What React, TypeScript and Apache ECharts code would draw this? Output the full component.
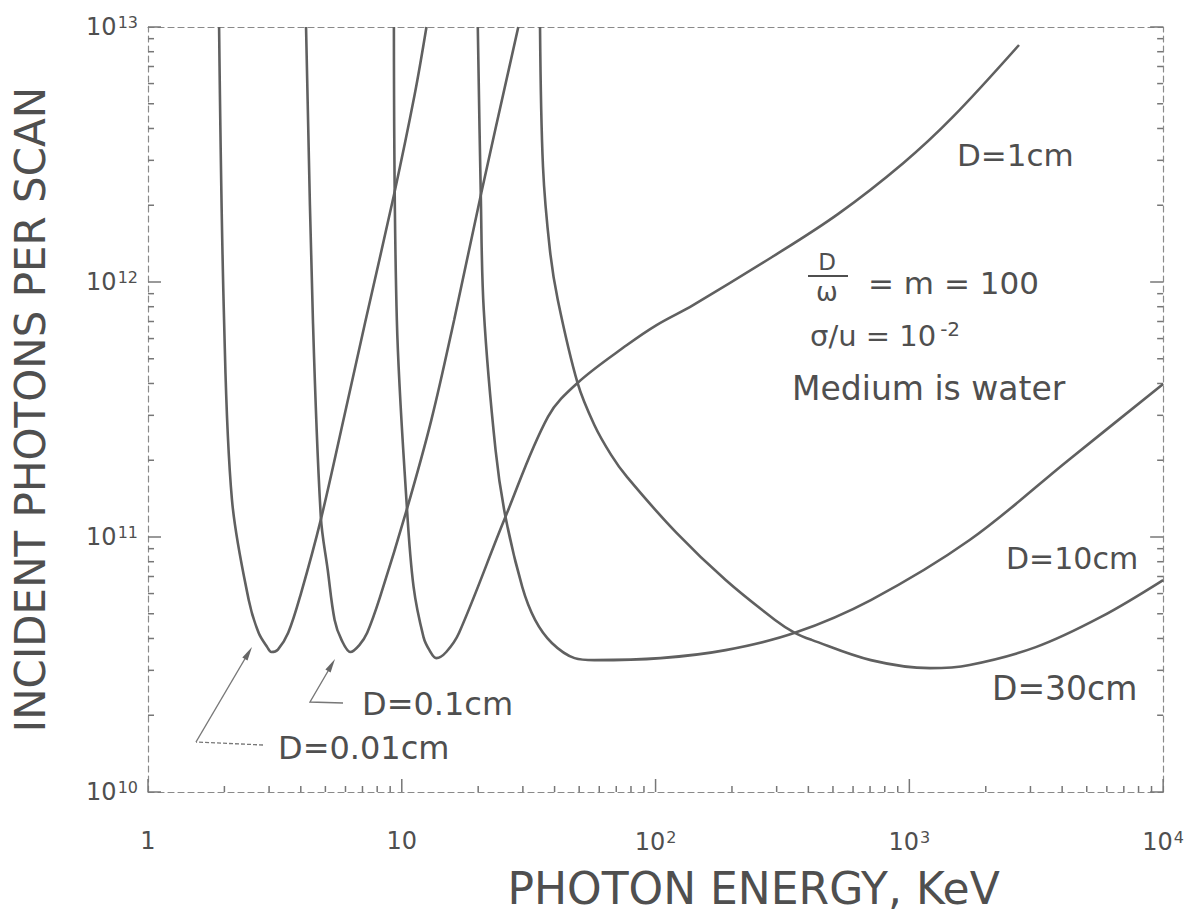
import React, { useEffect, useRef } from "react";
import * as echarts from "echarts";

// Curves: [photon energy (keV), incident photons per scan]
const curveD001: [number, number][] = [
  [1.906, 1e13], [1.994, 7.1e11], [2.142, 1.4e11], [2.494, 5.66e10], [2.728, 4.21e10],
  [2.95, 3.7e10], [3.064, 3.54e10], [3.25, 3.62e10], [3.568, 4.21e10], [4.01, 6.03e10],
  [4.797, 1.17e11], [5.949, 3.01e11], [7.178, 6.97e11], [9.309, 2.19e12], [11.23, 5.41e12],
  [12.51, 1e13],
];
const curveD01: [number, number][] = [
  [4.195, 1e13], [4.465, 7.1e11], [4.797, 1.2e11], [5.108, 7.42e10], [5.437, 4.73e10],
  [5.789, 3.95e10], [6.278, 3.54e10], [6.803, 3.77e10], [7.307, 4.21e10], [8.212, 5.82e10],
  [10.46, 1.28e11], [13.08, 2.88e11], [16.08, 7.1e11], [20.48, 2.19e12], [28.78, 1e13],
];
const curveD1: [number, number][] = [
  [9.309, 1e13], [9.562, 7.1e11], [10.46, 1.335e11], [11.13, 6.37e10], [12.18, 4.05e10],
  [12.85, 3.6e10], [13.68, 3.35e10], [14.97, 3.54e10], [16.82, 4.21e10],
  [25.62, 1.2e11], [37.66, 2.96e11], [49.27, 4.02e11], [77.14, 5.66e11], [100.9, 6.78e11],
  [140.6, 8.12e11], [287.8, 1.253e12], [524.6, 1.85e12], [947.7, 2.93e12], [1484, 4.44e12],
  [2704, 8.5e12],
];
const curveD10: [number, number][] = [
  [19.93, 1e13], [20.48, 2.19e12], [21.04, 7.77e11], [23.42, 2.19e11], [25.62, 1.2e11],
  [29.83, 6.37e10], [33.52, 4.73e10], [39.03, 3.84e10], [47.97, 3.35e10], [57.38, 3.29e10],
  [104.6, 3.35e10], [188.9, 3.6e10], [353.7, 4.21e10], [705.1, 5.66e10], [1728, 9.73e10],
  [4231, 2.0e11], [10000, 3.98e11],
];
const curveD30: [number, number][] = [
  [35.05, 1e13], [36.01, 2.83e12], [38.34, 1.335e12], [41.19, 8.5e11], [49.27, 4.02e11],
  [57.38, 2.75e11], [66.8, 2.1e11], [77.14, 1.72e11], [120.7, 1.04e11], [188.9, 6.78e10],
  [295.6, 4.73e10], [353.7, 4.21e10], [411.9, 3.95e10], [705.1, 3.29e10], [1207, 3.06e10],
  [1728, 3.15e10], [3149, 3.7e10], [5686, 4.86e10], [10000, 6.78e10],
];

const xDecadeExponents = [0, 1, 2, 3, 4];
const yDecadeExponents = [10, 11, 12, 13];
const minorMultipliers = [2, 3, 4, 5, 6, 7, 8, 9];

const curveNames = ["D=0.01cm", "D=0.1cm", "D=1cm", "D=10cm", "D=30cm"];

const INK = "#4f4f4f";
const LINE = "#606060";
const FONT = "DejaVu Sans";

function decadeLabel(v: number, plainBelow: number) {
  const e = Math.round(Math.log10(v));
  if (e < plainBelow) return `{b|${Math.round(v)}}`;
  return `{b|10}{s|${e}}`;
}

export default function App() {
  const ref = useRef<HTMLDivElement>(null);

  useEffect(() => {
    if (!ref.current) return;
    const chart = echarts.init(ref.current, undefined, { renderer: "svg" });

    // tick marks: [x, y, kind (0 bottom, 1 left, 2 right), major]
    const xMin = Math.pow(10, xDecadeExponents[0]);
    const xMax = Math.pow(10, xDecadeExponents[xDecadeExponents.length - 1]);
    const yMin = Math.pow(10, yDecadeExponents[0]);
    const yMax = Math.pow(10, yDecadeExponents[yDecadeExponents.length - 1]);
    const ticks: number[][] = [];
    xDecadeExponents.forEach((e, i) => {
      ticks.push([Math.pow(10, e), yMin, 0, 1]);
      if (i < xDecadeExponents.length - 1)
        minorMultipliers.forEach((m) => ticks.push([m * Math.pow(10, e), yMin, 0, 0]));
    });
    yDecadeExponents.forEach((e, i) => {
      ticks.push([xMin, Math.pow(10, e), 1, 1]);
      ticks.push([xMax, Math.pow(10, e), 2, 1]);
      if (i < yDecadeExponents.length - 1)
        minorMultipliers.forEach((m) => {
          ticks.push([xMin, m * Math.pow(10, e), 1, 0]);
          ticks.push([xMax, m * Math.pow(10, e), 2, 0]);
        });
    });

    const curves = [curveD001, curveD01, curveD1, curveD10, curveD30];

    const labelRich = {
      b: { fontSize: 24, fontFamily: FONT, color: INK },
      s: { fontSize: 16, fontFamily: FONT, color: INK, verticalAlign: "top" as const, padding: [0, 0, 10, 1] },
    };

    const axisLineStyle = { color: "#8a8a8a", width: 1.2, type: [6, 4] as any };

    const textEl = (text: string, x: number, y: number, size: number, extra: any = {}) => ({
      type: "text",
      x,
      y,
      silent: true,
      style: {
        text,
        fill: INK,
        font: `${size}px "${FONT}"`,
        textVerticalAlign: "middle",
        verticalAlign: "middle",
        ...extra,
      },
    });

    chart.setOption({
      animation: false,
      backgroundColor: "#ffffff",
      grid: { left: 148, right: 12, top: 27, bottom: 124, containLabel: false },
      xAxis: [
        {
          type: "log",
          logBase: 10,
          min: xMin,
          max: xMax,
          position: "bottom",
          axisLine: { show: true, lineStyle: axisLineStyle },
          axisTick: { show: false },
          minorTick: { show: false },
          splitLine: { show: false },
          axisLabel: {
            margin: 37,
            formatter: (v: number) => decadeLabel(v, 2),
            rich: labelRich,
          },
          name: "PHOTON ENERGY, KeV",
          nameLocation: "middle",
          nameGap: 74,
          nameTextStyle: {
            fontSize: 44,
            fontFamily: FONT,
            color: INK,
            padding: [0, 0, 0, 196],
          },
        },
        {
          type: "log",
          logBase: 10,
          min: xMin,
          max: xMax,
          position: "top",
          axisLine: { show: true, lineStyle: axisLineStyle },
          axisTick: { show: false },
          axisLabel: { show: false },
          splitLine: { show: false },
        },
      ],
      yAxis: [
        {
          type: "log",
          logBase: 10,
          min: yMin,
          max: yMax,
          position: "left",
          axisLine: { show: true, lineStyle: axisLineStyle },
          axisTick: { show: false },
          splitLine: { show: false },
          axisLabel: {
            margin: 10,
            formatter: (v: number) => decadeLabel(v, 0),
            rich: labelRich,
          },
          name: "INCIDENT PHOTONS PER SCAN",
          nameLocation: "middle",
          nameRotate: 90,
          nameGap: 97,
          nameTextStyle: { fontSize: 42, fontFamily: FONT, color: INK },
        },
        {
          type: "log",
          logBase: 10,
          min: yMin,
          max: yMax,
          position: "right",
          axisLine: { show: true, lineStyle: axisLineStyle },
          axisTick: { show: false },
          axisLabel: { show: false },
          splitLine: { show: false },
        },
      ],
      series: [
        ...curves.map((data, i) => ({
          name: curveNames[i],
          type: "line",
          xAxisIndex: 0,
          yAxisIndex: 0,
          data,
          showSymbol: false,
          smooth: 0.35,
          lineStyle: { color: LINE, width: 2.6 },
          silent: true,
          z: 3,
        })),
        {
          name: "ticks",
          type: "custom",
          coordinateSystem: "cartesian2d",
          xAxisIndex: 0,
          yAxisIndex: 0,
          silent: true,
          clip: false,
          data: ticks,
          encode: { x: 0, y: 1 },
          renderItem: (_params: any, api: any) => {
            const p = api.coord([api.value(0), api.value(1)]);
            const kind = api.value(2);
            const len = api.value(3) ? 13 : 6;
            let x2 = p[0];
            let y2 = p[1];
            if (kind === 0) y2 -= len;
            else if (kind === 1) x2 += len;
            else x2 -= len;
            return {
              type: "line",
              shape: { x1: p[0], y1: p[1], x2, y2 },
              style: { stroke: "#777", lineWidth: 1.5 },
            };
          },
          z: 2,
        },
      ],
      graphic: [
        textEl("D=1cm", 957, 155, 31),
        textEl("D=10cm", 1006, 558, 30),
        textEl("D=30cm", 992, 688, 33),
        textEl("D=0.1cm", 362, 704, 32),
        textEl("D=0.01cm", 278, 748, 32),
        textEl("Medium is water", 792, 388, 33),
        textEl("D", 827, 262, 23, { textAlign: "center", align: "center" }),
        {
          type: "line",
          silent: true,
          shape: { x1: 808, y1: 276, x2: 848, y2: 276 },
          style: { stroke: INK, lineWidth: 2 },
        },
        textEl("ω", 827, 292, 26, { textAlign: "center", align: "center" }),
        textEl("= m = 100", 868, 283, 31),
        {
          type: "text",
          x: 810,
          y: 336,
          silent: true,
          style: {
            text: "{m|σ/u = 10}{s|-2}",
            verticalAlign: "middle",
            rich: {
              m: { fontSize: 29, fontFamily: FONT, fill: INK, color: INK },
              s: { fontSize: 20, fontFamily: FONT, fill: INK, color: INK, verticalAlign: "top", padding: [0, 0, 14, 4] },
            },
          },
        },
        // leader for D = 0.01cm
        {
          type: "polyline",
          silent: true,
          shape: { points: [[263, 745], [196, 742]] },
          style: { stroke: "#777", lineWidth: 1.3, lineDash: [4, 2], fill: null },
        },
        {
          type: "line",
          silent: true,
          shape: { x1: 196, y1: 742, x2: 246, y2: 657 },
          style: { stroke: "#777", lineWidth: 1.4 },
        },
        {
          type: "polygon",
          silent: true,
          shape: { points: [[252, 647], [247.5, 660.6], [242.3, 657.6]] },
          style: { fill: "#666" },
        },
        // leader for D = 0.1cm
        {
          type: "polyline",
          silent: true,
          shape: { points: [[343, 703], [310, 702], [331, 666]] },
          style: { stroke: "#777", lineWidth: 1.4, fill: null },
        },
        {
          type: "polygon",
          silent: true,
          shape: { points: [[335, 659], [330.6, 672.6], [325.4, 669.6]] },
          style: { fill: "#666" },
        },
      ],
    });

    return () => chart.dispose();
  }, []);

  return (
    <div
      ref={ref}
      style={{ position: "absolute", left: 0, top: 0, width: 1187, height: 916 }}
    />
  );
}
